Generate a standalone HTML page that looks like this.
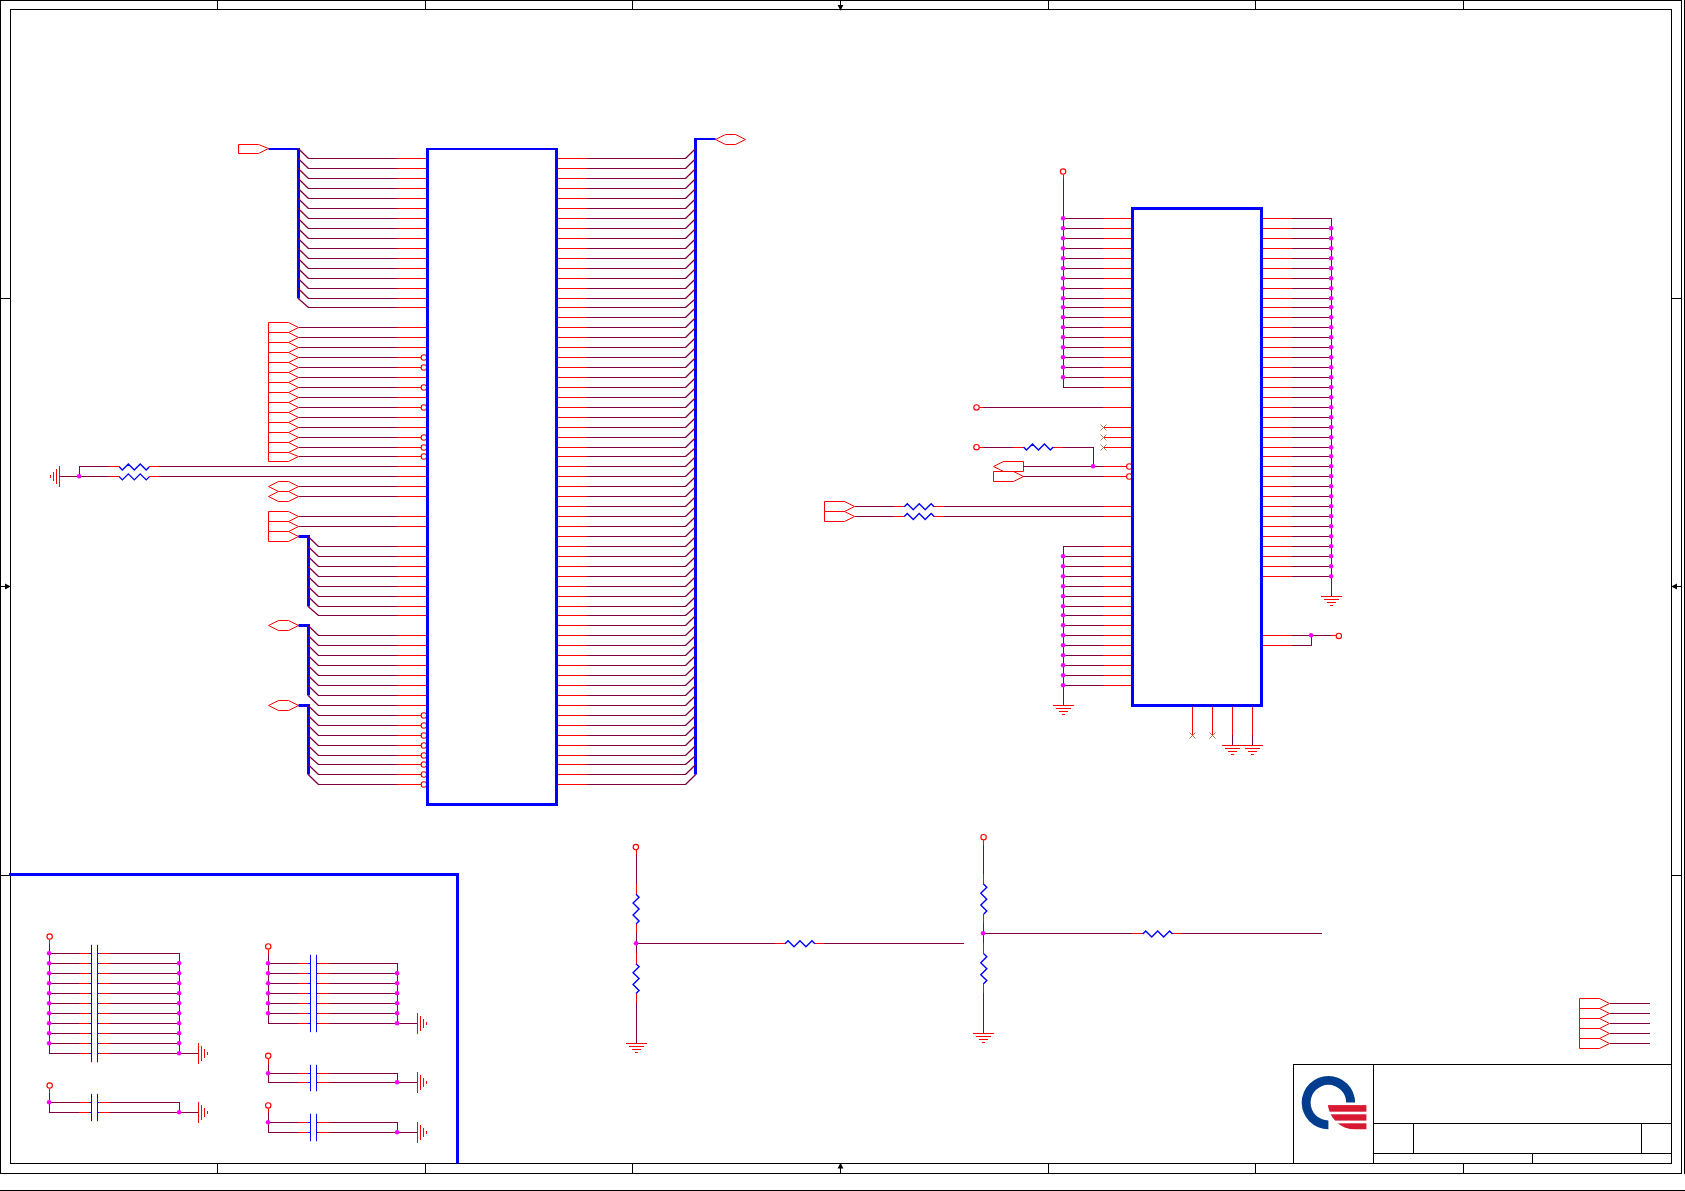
<!DOCTYPE html>
<html><head><meta charset="utf-8"><title>Schematic</title>
<style>html,body{margin:0;padding:0;background:#fff;font-family:"Liberation Sans",sans-serif}svg{display:block}</style></head>
<body>
<svg width="1685" height="1191" viewBox="0 0 1685 1191">
<rect width="1685" height="1191" fill="#fff"/>
<path d="M0 0.5L1682 0.5M0.5 0L0.5 1174M0 1173.5L1682 1173.5M1681.5 0L1681.5 1174M1684.5 0L1684.5 1174M10 9.5L1672 9.5M10.5 9L10.5 1164M10 1163.5L1672 1163.5M1671.5 9L1671.5 1164M217.5 0L217.5 10M217.5 1163L217.5 1174M425.5 0L425.5 10M425.5 1163L425.5 1174M632.5 0L632.5 10M632.5 1163L632.5 1174M1048.5 0L1048.5 10M1048.5 1163L1048.5 1174M1255.5 0L1255.5 10M1255.5 1163L1255.5 1174M1463.5 0L1463.5 10M1463.5 1163L1463.5 1174M0 298.5L11 298.5M1671 298.5L1682 298.5M0 875.5L11 875.5M1671 875.5L1682 875.5M840.5 0L840.5 10M840.5 1163L840.5 1174M0 586.5L11 586.5M1671 586.5L1682 586.5M1293 1064.5L1672 1064.5M1293.5 1064L1293.5 1164M1373.5 1064L1373.5 1164M1373 1123.5L1672 1123.5M1373 1153.5L1672 1153.5M1413.5 1123L1413.5 1154M1641.5 1123L1641.5 1154M1532.5 1153L1532.5 1164" fill="none" stroke="#000000" stroke-width="1"/>
<path d="M397 158.5L426 158.5M397 168.5L426 168.5M397 178.5L426 178.5M397 188.5L426 188.5M397 198.5L426 198.5M397 208.5L426 208.5M397 218.5L426 218.5M397 228.5L426 228.5M397 238.5L426 238.5M397 248.5L426 248.5M397 258.5L426 258.5M397 268.5L426 268.5M397 278.5L426 278.5M397 288.5L426 288.5M397 298.5L426 298.5M397 307.5L426 307.5M397 327.5L426 327.5M397 337.5L426 337.5M397 347.5L426 347.5M397 357.5L426 357.5M397 367.5L426 367.5M397 377.5L426 377.5M397 387.5L426 387.5M397 397.5L426 397.5M397 407.5L426 407.5M397 417.5L426 417.5M397 427.5L426 427.5M397 437.5L426 437.5M397 447.5L426 447.5M397 456.5L426 456.5M397 466.5L426 466.5M397 476.5L426 476.5M397 486.5L426 486.5M397 496.5L426 496.5M397 516.5L426 516.5M397 526.5L426 526.5M397 546.5L426 546.5M397 556.5L426 556.5M397 566.5L426 566.5M397 576.5L426 576.5M397 586.5L426 586.5M397 596.5L426 596.5M397 606.5L426 606.5M397 615.5L426 615.5M397 635.5L426 635.5M397 645.5L426 645.5M397 655.5L426 655.5M397 665.5L426 665.5M397 675.5L426 675.5M397 685.5L426 685.5M397 695.5L426 695.5M397 705.5L426 705.5M397 715.5L426 715.5M397 725.5L426 725.5M397 735.5L426 735.5M397 745.5L426 745.5M397 755.5L426 755.5M397 764.5L426 764.5M397 774.5L426 774.5M397 784.5L426 784.5M238.5 144.5L258.5 144.5L268.5 148.5L258.5 153.5L238.5 153.5ZM268.5 322.5L288.5 322.5L298.5 327.5L288.5 332.5L268.5 332.5ZM268.5 332.5L288.5 332.5L298.5 337.5L288.5 342.5L268.5 342.5ZM268.5 342.5L288.5 342.5L298.5 347.5L288.5 352.5L268.5 352.5ZM268.5 352.5L288.5 352.5L298.5 357.5L288.5 362.5L268.5 362.5ZM268.5 362.5L288.5 362.5L298.5 367.5L288.5 372.5L268.5 372.5ZM268.5 372.5L288.5 372.5L298.5 377.5L288.5 382.5L268.5 382.5ZM268.5 382.5L288.5 382.5L298.5 387.5L288.5 392.5L268.5 392.5ZM268.5 392.5L288.5 392.5L298.5 397.5L288.5 402.5L268.5 402.5ZM268.5 402.5L288.5 402.5L298.5 407.5L288.5 412.5L268.5 412.5ZM268.5 412.5L288.5 412.5L298.5 417.5L288.5 422.5L268.5 422.5ZM268.5 422.5L288.5 422.5L298.5 427.5L288.5 432.5L268.5 432.5ZM268.5 432.5L288.5 432.5L298.5 437.5L288.5 442.5L268.5 442.5ZM268.5 442.5L288.5 442.5L298.5 447.5L288.5 452.5L268.5 452.5ZM268.5 452.5L288.5 452.5L298.5 456.5L288.5 461.5L268.5 461.5ZM149 466.5L159 466.5M109 466.5L120 466.5M149 476.5L159 476.5M109 476.5L120 476.5M59.5 466L59.5 487M56.5 469L56.5 484M53.5 472L53.5 481M50.5 475L50.5 478M268.5 486.5L278.5 481.5L288.5 481.5L298.5 486.5L288.5 491.5L278.5 491.5ZM268.5 496.5L278.5 491.5L288.5 491.5L298.5 496.5L288.5 501.5L278.5 501.5ZM268.5 511.5L288.5 511.5L298.5 516.5L288.5 521.5L268.5 521.5ZM268.5 521.5L288.5 521.5L298.5 526.5L288.5 531.5L268.5 531.5ZM268.5 531.5L288.5 531.5L298.5 536.5L288.5 541.5L268.5 541.5ZM268.5 625.5L278.5 620.5L288.5 620.5L298.5 625.5L288.5 630.5L278.5 630.5ZM268.5 705.5L278.5 700.5L288.5 700.5L298.5 705.5L288.5 710.5L278.5 710.5ZM558 158.5L587 158.5M558 168.5L587 168.5M558 178.5L587 178.5M558 188.5L587 188.5M558 198.5L587 198.5M558 208.5L587 208.5M558 218.5L587 218.5M558 228.5L587 228.5M558 238.5L587 238.5M558 248.5L587 248.5M558 258.5L587 258.5M558 268.5L587 268.5M558 278.5L587 278.5M558 288.5L587 288.5M558 298.5L587 298.5M558 307.5L587 307.5M558 317.5L587 317.5M558 327.5L587 327.5M558 337.5L587 337.5M558 347.5L587 347.5M558 357.5L587 357.5M558 367.5L587 367.5M558 377.5L587 377.5M558 387.5L587 387.5M558 397.5L587 397.5M558 407.5L587 407.5M558 417.5L587 417.5M558 427.5L587 427.5M558 437.5L587 437.5M558 447.5L587 447.5M558 456.5L587 456.5M558 466.5L587 466.5M558 476.5L587 476.5M558 486.5L587 486.5M558 496.5L587 496.5M558 506.5L587 506.5M558 516.5L587 516.5M558 526.5L587 526.5M558 536.5L587 536.5M558 546.5L587 546.5M558 556.5L587 556.5M558 566.5L587 566.5M558 576.5L587 576.5M558 586.5L587 586.5M558 596.5L587 596.5M558 606.5L587 606.5M558 615.5L587 615.5M558 625.5L587 625.5M558 635.5L587 635.5M558 645.5L587 645.5M558 655.5L587 655.5M558 665.5L587 665.5M558 675.5L587 675.5M558 685.5L587 685.5M558 695.5L587 695.5M558 705.5L587 705.5M558 715.5L587 715.5M558 725.5L587 725.5M558 735.5L587 735.5M558 745.5L587 745.5M558 755.5L587 755.5M558 764.5L587 764.5M558 774.5L587 774.5M558 784.5L587 784.5M715.5 139.5L725.5 134.5L735.5 134.5L745.5 139.5L735.5 144.5L725.5 144.5ZM1103 218.5L1131 218.5M1103 228.5L1131 228.5M1103 238.5L1131 238.5M1103 248.5L1131 248.5M1103 258.5L1131 258.5M1103 268.5L1131 268.5M1103 278.5L1131 278.5M1103 288.5L1131 288.5M1103 298.5L1131 298.5M1103 307.5L1131 307.5M1103 317.5L1131 317.5M1103 327.5L1131 327.5M1103 337.5L1131 337.5M1103 347.5L1131 347.5M1103 357.5L1131 357.5M1103 367.5L1131 367.5M1103 377.5L1131 377.5M1103 387.5L1131 387.5M1063.5 174.5L1063.5 179M1103 407.5L1131 407.5M979.49 407.5L984 407.5M1103 427.5L1131 427.5M1103 437.5L1131 437.5M1103 447.5L1131 447.5M979.49 447.5L984 447.5M1013 447.5L1024 447.5M1053 447.5L1063 447.5M1103 466.5L1131 466.5M1023.5 461.5L1003.5 461.5L993.5 466.5L1003.5 471.5L1023.5 471.5ZM1103 476.5L1131 476.5M993.5 471.5L1013.5 471.5L1023.5 476.5L1013.5 481.5L993.5 481.5ZM1103 506.5L1131 506.5M934 506.5L944 506.5M894 506.5L905 506.5M824.5 501.5L844.5 501.5L854.5 506.5L844.5 511.5L824.5 511.5ZM1103 516.5L1131 516.5M934 516.5L944 516.5M894 516.5L905 516.5M824.5 511.5L844.5 511.5L854.5 516.5L844.5 521.5L824.5 521.5ZM1103 546.5L1131 546.5M1103 556.5L1131 556.5M1103 566.5L1131 566.5M1103 576.5L1131 576.5M1103 586.5L1131 586.5M1103 596.5L1131 596.5M1103 606.5L1131 606.5M1103 615.5L1131 615.5M1103 625.5L1131 625.5M1103 635.5L1131 635.5M1103 645.5L1131 645.5M1103 655.5L1131 655.5M1103 665.5L1131 665.5M1103 675.5L1131 675.5M1103 685.5L1131 685.5M1053 705.5L1074 705.5M1056 708.5L1071 708.5M1059 711.5L1068 711.5M1062 714.5L1065 714.5M1263 218.5L1292 218.5M1263 228.5L1292 228.5M1263 238.5L1292 238.5M1263 248.5L1292 248.5M1263 258.5L1292 258.5M1263 268.5L1292 268.5M1263 278.5L1292 278.5M1263 288.5L1292 288.5M1263 298.5L1292 298.5M1263 307.5L1292 307.5M1263 317.5L1292 317.5M1263 327.5L1292 327.5M1263 337.5L1292 337.5M1263 347.5L1292 347.5M1263 357.5L1292 357.5M1263 367.5L1292 367.5M1263 377.5L1292 377.5M1263 387.5L1292 387.5M1263 397.5L1292 397.5M1263 407.5L1292 407.5M1263 417.5L1292 417.5M1263 427.5L1292 427.5M1263 437.5L1292 437.5M1263 447.5L1292 447.5M1263 456.5L1292 456.5M1263 466.5L1292 466.5M1263 476.5L1292 476.5M1263 486.5L1292 486.5M1263 496.5L1292 496.5M1263 506.5L1292 506.5M1263 516.5L1292 516.5M1263 526.5L1292 526.5M1263 536.5L1292 536.5M1263 546.5L1292 546.5M1263 556.5L1292 556.5M1263 566.5L1292 566.5M1263 576.5L1292 576.5M1321 596.5L1342 596.5M1324 599.5L1339 599.5M1327 602.5L1336 602.5M1330 605.5L1333 605.5M1263 635.5L1292 635.5M1263 645.5L1292 645.5M1331 635.5L1335.84 635.5M1192.5 707L1192.5 735M1212.5 707L1212.5 735M1232.5 707L1232.5 735M1222 745.5L1243 745.5M1225 748.5L1240 748.5M1228 751.5L1237 751.5M1231 754.5L1234 754.5M1252.5 707L1252.5 735M1242 745.5L1263 745.5M1245 748.5L1260 748.5M1248 751.5L1257 751.5M1251 754.5L1254 754.5M636.5 850.12L636.5 855M636.5 884L636.5 895M636.5 923L636.5 933M636.5 953L636.5 964M636.5 993L636.5 1003M626 1043.5L647 1043.5M629 1046.5L644 1046.5M632 1049.5L641 1049.5M635 1052.5L638 1052.5M775 943.5L786 943.5M814 943.5L824 943.5M983.5 840.18L983.5 845M983.5 874L983.5 885M983.5 914L983.5 923M983.5 943L983.5 954M983.5 983L983.5 993M973 1033.5L994 1033.5M976 1036.5L991 1036.5M979 1039.5L988 1039.5M982 1042.5L985 1042.5M1132 933.5L1143 933.5M1172 933.5L1182 933.5M1579.5 998.5L1599.5 998.5L1609.5 1003.5L1599.5 1008.5L1579.5 1008.5ZM1579.5 1008.5L1599.5 1008.5L1609.5 1013.5L1599.5 1018.5L1579.5 1018.5ZM1579.5 1018.5L1599.5 1018.5L1609.5 1023.5L1599.5 1028.5L1579.5 1028.5ZM1579.5 1028.5L1599.5 1028.5L1609.5 1033.5L1599.5 1038.5L1579.5 1038.5ZM1579.5 1038.5L1599.5 1038.5L1609.5 1043.5L1599.5 1048.5L1579.5 1048.5ZM49.5 939.54L49.5 944M79 953.5L89 953.5M99 953.5L110 953.5M79 963.5L89 963.5M99 963.5L110 963.5M79 973.5L89 973.5M99 973.5L110 973.5M79 983.5L89 983.5M99 983.5L110 983.5M79 993.5L89 993.5M99 993.5L110 993.5M79 1003.5L89 1003.5M99 1003.5L110 1003.5M79 1013.5L89 1013.5M99 1013.5L110 1013.5M79 1023.5L89 1023.5M99 1023.5L110 1023.5M79 1033.5L89 1033.5M99 1033.5L110 1033.5M79 1043.5L89 1043.5M99 1043.5L110 1043.5M79 1053.5L89 1053.5M99 1053.5L110 1053.5M198.5 1043L198.5 1064M201.5 1046L201.5 1061M204.5 1049L204.5 1058M207.5 1052L207.5 1055M49.5 1088.57L49.5 1093M79 1102.5L89 1102.5M99 1102.5L110 1102.5M79 1112.5L89 1112.5M99 1112.5L110 1112.5M198.5 1102L198.5 1123M201.5 1105L201.5 1120M204.5 1108L204.5 1117M207.5 1111L207.5 1114M268.5 949.47L268.5 954M298 963.5L308 963.5M318 963.5L329 963.5M298 973.5L308 973.5M318 973.5L329 973.5M298 983.5L308 983.5M318 983.5L329 983.5M298 993.5L308 993.5M318 993.5L329 993.5M298 1003.5L308 1003.5M318 1003.5L329 1003.5M298 1013.5L308 1013.5M318 1013.5L329 1013.5M298 1023.5L308 1023.5M318 1023.5L329 1023.5M417.5 1013L417.5 1034M420.5 1016L420.5 1031M423.5 1019L423.5 1028M426.5 1022L426.5 1025M268.5 1058.77L268.5 1064M298 1073.5L308 1073.5M318 1073.5L329 1073.5M298 1082.5L308 1082.5M318 1082.5L329 1082.5M417.5 1072L417.5 1093M420.5 1075L420.5 1090M423.5 1078L423.5 1087M426.5 1081L426.5 1084M268.5 1108.44L268.5 1113M298 1122.5L308 1122.5M318 1122.5L329 1122.5M298 1132.5L308 1132.5M318 1132.5L329 1132.5M417.5 1122L417.5 1143M420.5 1125L420.5 1140M423.5 1128L423.5 1137M426.5 1131L426.5 1134" fill="none" stroke="#ff0000" stroke-width="1" stroke-linejoin="miter"/>
<g fill="#0000ff"><rect x="268.5" y="148" width="31.5" height="2"/><rect x="297" y="148" width="3" height="150.5"/><rect x="298.5" y="535" width="11.5" height="3"/><rect x="307" y="535" width="3" height="71.5"/><rect x="298.5" y="624" width="11.5" height="3"/><rect x="307" y="624" width="3" height="71.5"/><rect x="298.5" y="704" width="11.5" height="3"/><rect x="307" y="704" width="3" height="70.5"/><rect x="694" y="138" width="3" height="636.5"/><rect x="694" y="138" width="21.5" height="2"/></g>
<path d="M298.24 148.5L308.5 158.5M298.24 158.5L308.5 168.5M298.24 168.5L308.5 178.5M298.24 178.5L308.5 188.5M298.24 188.5L308.5 198.5M298.24 198.5L308.5 208.5M298.24 208.5L308.5 218.5M298.24 218.5L308.5 228.5M298.24 228.5L308.5 238.5M298.24 238.5L308.5 248.5M298.24 248.5L308.5 258.5M298.24 258.5L308.5 268.5M298.24 268.5L308.5 278.5M298.24 278.5L308.5 288.5M298.24 288.5L308.5 298.5M298.24 298.5L308.5 307.5M308.17 536.5L318.5 546.5M308.17 546.5L318.5 556.5M308.17 556.5L318.5 566.5M308.17 566.5L318.5 576.5M308.17 576.5L318.5 586.5M308.17 586.5L318.5 596.5M308.17 596.5L318.5 606.5M308.17 606.5L318.5 615.5M308.17 625.5L318.5 635.5M308.17 635.5L318.5 645.5M308.17 645.5L318.5 655.5M308.17 655.5L318.5 665.5M308.17 665.5L318.5 675.5M308.17 675.5L318.5 685.5M308.17 685.5L318.5 695.5M308.17 695.5L318.5 705.5M308.17 705.5L318.5 715.5M308.17 715.5L318.5 725.5M308.17 725.5L318.5 735.5M308.17 735.5L318.5 745.5M308.17 745.5L318.5 755.5M308.17 755.5L318.5 764.5M308.17 764.5L318.5 774.5M308.17 774.5L318.5 784.5M685.5 158.5L695.66 148.5M685.5 168.5L695.66 158.5M685.5 178.5L695.66 168.5M685.5 188.5L695.66 178.5M685.5 198.5L695.66 188.5M685.5 208.5L695.66 198.5M685.5 218.5L695.66 208.5M685.5 228.5L695.66 218.5M685.5 238.5L695.66 228.5M685.5 248.5L695.66 238.5M685.5 258.5L695.66 248.5M685.5 268.5L695.66 258.5M685.5 278.5L695.66 268.5M685.5 288.5L695.66 278.5M685.5 298.5L695.66 288.5M685.5 307.5L695.66 298.5M685.5 317.5L695.66 307.5M685.5 327.5L695.66 317.5M685.5 337.5L695.66 327.5M685.5 347.5L695.66 337.5M685.5 357.5L695.66 347.5M685.5 367.5L695.66 357.5M685.5 377.5L695.66 367.5M685.5 387.5L695.66 377.5M685.5 397.5L695.66 387.5M685.5 407.5L695.66 397.5M685.5 417.5L695.66 407.5M685.5 427.5L695.66 417.5M685.5 437.5L695.66 427.5M685.5 447.5L695.66 437.5M685.5 456.5L695.66 447.5M685.5 466.5L695.66 456.5M685.5 476.5L695.66 466.5M685.5 486.5L695.66 476.5M685.5 496.5L695.66 486.5M685.5 506.5L695.66 496.5M685.5 516.5L695.66 506.5M685.5 526.5L695.66 516.5M685.5 536.5L695.66 526.5M685.5 546.5L695.66 536.5M685.5 556.5L695.66 546.5M685.5 566.5L695.66 556.5M685.5 576.5L695.66 566.5M685.5 586.5L695.66 576.5M685.5 596.5L695.66 586.5M685.5 606.5L695.66 596.5M685.5 615.5L695.66 606.5M685.5 625.5L695.66 615.5M685.5 635.5L695.66 625.5M685.5 645.5L695.66 635.5M685.5 655.5L695.66 645.5M685.5 665.5L695.66 655.5M685.5 675.5L695.66 665.5M685.5 685.5L695.66 675.5M685.5 695.5L695.66 685.5M685.5 705.5L695.66 695.5M685.5 715.5L695.66 705.5M685.5 725.5L695.66 715.5M685.5 735.5L695.66 725.5M685.5 745.5L695.66 735.5M685.5 755.5L695.66 745.5M685.5 764.5L695.66 755.5M685.5 774.5L695.66 764.5M685.5 784.5L695.66 774.5" fill="none" stroke="#800040" stroke-width="1.3"/>
<path d="M308 158.5L397 158.5M308 168.5L397 168.5M308 178.5L397 178.5M308 188.5L397 188.5M308 198.5L397 198.5M308 208.5L397 208.5M308 218.5L397 218.5M308 228.5L397 228.5M308 238.5L397 238.5M308 248.5L397 248.5M308 258.5L397 258.5M308 268.5L397 268.5M308 278.5L397 278.5M308 288.5L397 288.5M308 298.5L397 298.5M308 307.5L397 307.5M299 327.5L397 327.5M299 337.5L397 337.5M299 347.5L397 347.5M299 357.5L397 357.5M299 367.5L397 367.5M299 377.5L397 377.5M299 387.5L397 387.5M299 397.5L397 397.5M299 407.5L397 407.5M299 417.5L397 417.5M299 427.5L397 427.5M299 437.5L397 437.5M299 447.5L397 447.5M299 456.5L397 456.5M159 466.5L397 466.5M79 466.5L109 466.5M159 476.5L397 476.5M79 476.5L109 476.5M79.5 466L79.5 477M59 476.5L80 476.5M299 486.5L397 486.5M299 496.5L397 496.5M299 516.5L397 516.5M299 526.5L397 526.5M318 546.5L397 546.5M318 556.5L397 556.5M318 566.5L397 566.5M318 576.5L397 576.5M318 586.5L397 586.5M318 596.5L397 596.5M318 606.5L397 606.5M318 615.5L397 615.5M318 635.5L397 635.5M318 645.5L397 645.5M318 655.5L397 655.5M318 665.5L397 665.5M318 675.5L397 675.5M318 685.5L397 685.5M318 695.5L397 695.5M318 705.5L397 705.5M318 715.5L397 715.5M318 725.5L397 725.5M318 735.5L397 735.5M318 745.5L397 745.5M318 755.5L397 755.5M318 764.5L397 764.5M318 774.5L397 774.5M318 784.5L397 784.5M587 158.5L686 158.5M587 168.5L686 168.5M587 178.5L686 178.5M587 188.5L686 188.5M587 198.5L686 198.5M587 208.5L686 208.5M587 218.5L686 218.5M587 228.5L686 228.5M587 238.5L686 238.5M587 248.5L686 248.5M587 258.5L686 258.5M587 268.5L686 268.5M587 278.5L686 278.5M587 288.5L686 288.5M587 298.5L686 298.5M587 307.5L686 307.5M587 317.5L686 317.5M587 327.5L686 327.5M587 337.5L686 337.5M587 347.5L686 347.5M587 357.5L686 357.5M587 367.5L686 367.5M587 377.5L686 377.5M587 387.5L686 387.5M587 397.5L686 397.5M587 407.5L686 407.5M587 417.5L686 417.5M587 427.5L686 427.5M587 437.5L686 437.5M587 447.5L686 447.5M587 456.5L686 456.5M587 466.5L686 466.5M587 476.5L686 476.5M587 486.5L686 486.5M587 496.5L686 496.5M587 506.5L686 506.5M587 516.5L686 516.5M587 526.5L686 526.5M587 536.5L686 536.5M587 546.5L686 546.5M587 556.5L686 556.5M587 566.5L686 566.5M587 576.5L686 576.5M587 586.5L686 586.5M587 596.5L686 596.5M587 606.5L686 606.5M587 615.5L686 615.5M587 625.5L686 625.5M587 635.5L686 635.5M587 645.5L686 645.5M587 655.5L686 655.5M587 665.5L686 665.5M587 675.5L686 675.5M587 685.5L686 685.5M587 695.5L686 695.5M587 705.5L686 705.5M587 715.5L686 715.5M587 725.5L686 725.5M587 735.5L686 735.5M587 745.5L686 745.5M587 755.5L686 755.5M587 764.5L686 764.5M587 774.5L686 774.5M587 784.5L686 784.5M1063 218.5L1103 218.5M1063 228.5L1103 228.5M1063 238.5L1103 238.5M1063 248.5L1103 248.5M1063 258.5L1103 258.5M1063 268.5L1103 268.5M1063 278.5L1103 278.5M1063 288.5L1103 288.5M1063 298.5L1103 298.5M1063 307.5L1103 307.5M1063 317.5L1103 317.5M1063 327.5L1103 327.5M1063 337.5L1103 337.5M1063 347.5L1103 347.5M1063 357.5L1103 357.5M1063 367.5L1103 367.5M1063 377.5L1103 377.5M1063 387.5L1103 387.5M1063.5 179L1063.5 388M983 407.5L1103 407.5M984 447.5L1013 447.5M1063 447.5L1094 447.5M1093.5 447L1093.5 467M1023 466.5L1103 466.5M1023 476.5L1103 476.5M944 506.5L1103 506.5M855 506.5L894 506.5M944 516.5L1103 516.5M855 516.5L894 516.5M1063 546.5L1103 546.5M1063 556.5L1103 556.5M1063 566.5L1103 566.5M1063 576.5L1103 576.5M1063 586.5L1103 586.5M1063 596.5L1103 596.5M1063 606.5L1103 606.5M1063 615.5L1103 615.5M1063 625.5L1103 625.5M1063 635.5L1103 635.5M1063 645.5L1103 645.5M1063 655.5L1103 655.5M1063 665.5L1103 665.5M1063 675.5L1103 675.5M1063 685.5L1103 685.5M1063.5 546L1063.5 705M1292 218.5L1332 218.5M1292 228.5L1332 228.5M1292 238.5L1332 238.5M1292 248.5L1332 248.5M1292 258.5L1332 258.5M1292 268.5L1332 268.5M1292 278.5L1332 278.5M1292 288.5L1332 288.5M1292 298.5L1332 298.5M1292 307.5L1332 307.5M1292 317.5L1332 317.5M1292 327.5L1332 327.5M1292 337.5L1332 337.5M1292 347.5L1332 347.5M1292 357.5L1332 357.5M1292 367.5L1332 367.5M1292 377.5L1332 377.5M1292 387.5L1332 387.5M1292 397.5L1332 397.5M1292 407.5L1332 407.5M1292 417.5L1332 417.5M1292 427.5L1332 427.5M1292 437.5L1332 437.5M1292 447.5L1332 447.5M1292 456.5L1332 456.5M1292 466.5L1332 466.5M1292 476.5L1332 476.5M1292 486.5L1332 486.5M1292 496.5L1332 496.5M1292 506.5L1332 506.5M1292 516.5L1332 516.5M1292 526.5L1332 526.5M1292 536.5L1332 536.5M1292 546.5L1332 546.5M1292 556.5L1332 556.5M1292 566.5L1332 566.5M1292 576.5L1332 576.5M1331.5 218L1331.5 596M1292 635.5L1312 635.5M1292 645.5L1312 645.5M1311 635.5L1331 635.5M1311.5 635L1311.5 646M1232.5 735L1232.5 745M1252.5 735L1252.5 745M636.5 855L636.5 884M636.5 933L636.5 953M636.5 1003L636.5 1043M636 943.5L775 943.5M824 943.5L964 943.5M983.5 845L983.5 874M983.5 923L983.5 943M983.5 993L983.5 1033M983 933.5L1132 933.5M1182 933.5L1322 933.5M1610 1003.5L1650 1003.5M1610 1013.5L1650 1013.5M1610 1023.5L1650 1023.5M1610 1033.5L1650 1033.5M1610 1043.5L1650 1043.5M49.5 944L49.5 1054M179.5 953L179.5 1054M49 953.5L79 953.5M110 953.5L180 953.5M49 963.5L79 963.5M110 963.5L180 963.5M49 973.5L79 973.5M110 973.5L180 973.5M49 983.5L79 983.5M110 983.5L180 983.5M49 993.5L79 993.5M110 993.5L180 993.5M49 1003.5L79 1003.5M110 1003.5L180 1003.5M49 1013.5L79 1013.5M110 1013.5L180 1013.5M49 1023.5L79 1023.5M110 1023.5L180 1023.5M49 1033.5L79 1033.5M110 1033.5L180 1033.5M49 1043.5L79 1043.5M110 1043.5L180 1043.5M49 1053.5L79 1053.5M110 1053.5L180 1053.5M179 1053.5L198 1053.5M49.5 1093L49.5 1113M179.5 1102L179.5 1113M49 1102.5L79 1102.5M110 1102.5L180 1102.5M49 1112.5L79 1112.5M110 1112.5L180 1112.5M179 1112.5L198 1112.5M268.5 954L268.5 1024M397.5 963L397.5 1024M268 963.5L298 963.5M329 963.5L398 963.5M268 973.5L298 973.5M329 973.5L398 973.5M268 983.5L298 983.5M329 983.5L398 983.5M268 993.5L298 993.5M329 993.5L398 993.5M268 1003.5L298 1003.5M329 1003.5L398 1003.5M268 1013.5L298 1013.5M329 1013.5L398 1013.5M268 1023.5L298 1023.5M329 1023.5L398 1023.5M397 1023.5L417 1023.5M268.5 1064L268.5 1083M397.5 1073L397.5 1083M268 1073.5L298 1073.5M329 1073.5L398 1073.5M268 1082.5L298 1082.5M329 1082.5L398 1082.5M397 1082.5L417 1082.5M268.5 1113L268.5 1133M397.5 1122L397.5 1133M268 1122.5L298 1122.5M329 1122.5L398 1122.5M268 1132.5L298 1132.5M329 1132.5L398 1132.5M397 1132.5L417 1132.5" fill="none" stroke="#800040" stroke-width="1"/>
<path d="M89 953.5L92 953.5M97 953.5L99 953.5M89 963.5L92 963.5M97 963.5L99 963.5M89 973.5L92 973.5M97 973.5L99 973.5M89 983.5L92 983.5M97 983.5L99 983.5M89 993.5L92 993.5M97 993.5L99 993.5M89 1003.5L92 1003.5M97 1003.5L99 1003.5M89 1013.5L92 1013.5M97 1013.5L99 1013.5M89 1023.5L92 1023.5M97 1023.5L99 1023.5M89 1033.5L92 1033.5M97 1033.5L99 1033.5M89 1043.5L92 1043.5M97 1043.5L99 1043.5M89 1053.5L92 1053.5M97 1053.5L99 1053.5M91.5 944.8L91.5 1062.2M97.5 944.8L97.5 1062.2M89 1102.5L92 1102.5M97 1102.5L99 1102.5M89 1112.5L92 1112.5M97 1112.5L99 1112.5M91.5 1093.8L91.5 1121.2M97.5 1093.8L97.5 1121.2M308 963.5L311 963.5M316 963.5L318 963.5M308 973.5L311 973.5M316 973.5L318 973.5M308 983.5L311 983.5M316 983.5L318 983.5M308 993.5L311 993.5M316 993.5L318 993.5M308 1003.5L311 1003.5M316 1003.5L318 1003.5M308 1013.5L311 1013.5M316 1013.5L318 1013.5M308 1023.5L311 1023.5M316 1023.5L318 1023.5M310.5 954.8L310.5 1032.2M316.5 954.8L316.5 1032.2M308 1073.5L311 1073.5M316 1073.5L318 1073.5M308 1082.5L311 1082.5M316 1082.5L318 1082.5M310.5 1064.8L310.5 1091.2M316.5 1064.8L316.5 1091.2M308 1122.5L311 1122.5M316 1122.5L318 1122.5M308 1132.5L311 1132.5M316 1132.5L318 1132.5M310.5 1113.8L310.5 1141.2M316.5 1113.8L316.5 1141.2" fill="none" stroke="#0000ff" stroke-width="1"/>
<path d="M119.4 466.93L122.38 469.93L128.34 463.93L134.3 469.93L140.26 463.93L146.22 469.93L149.2 466.93M119.4 476.87L122.38 479.87L128.34 473.87L134.3 479.87L140.26 473.87L146.22 479.87L149.2 476.87M1023.54 447.06L1026.52 450.06L1032.48 444.06L1038.44 450.06L1044.4 444.06L1050.36 450.06L1053.34 447.06M904.31 506.67L907.29 503.67L913.25 509.67L919.21 503.67L925.17 509.67L931.13 503.67L934.12 506.67M904.31 516.61L907.29 513.61L913.25 519.61L919.21 513.61L925.17 519.61L931.13 513.61L934.12 516.61M636.05 894.16L639.05 897.14L633.05 903.1L639.05 909.06L633.05 915.03L639.05 920.99L636.05 923.97M636.05 963.71L639.05 966.69L633.05 972.65L639.05 978.61L633.05 984.57L639.05 990.54L636.05 993.52M785.08 943.84L788.06 940.84L794.02 946.84L799.98 940.84L805.95 946.84L811.91 940.84L814.89 943.84M983.79 884.23L986.79 887.21L980.79 893.17L986.79 899.13L980.79 905.09L986.79 911.05L983.79 914.03M983.79 953.77L986.79 956.76L980.79 962.72L986.79 968.68L980.79 974.64L986.79 980.6L983.79 983.58M1142.76 933.9L1145.74 930.9L1151.71 936.9L1157.67 930.9L1163.63 936.9L1169.59 930.9L1172.57 933.9" fill="none" stroke="#0000ff" stroke-width="1.4" stroke-linejoin="miter"/>
<path d="M1100.5 424.5L1106.5 430.5M1100.5 430.5L1106.5 424.5M1100.5 434.5L1106.5 440.5M1100.5 440.5L1106.5 434.5M1100.5 444.5L1106.5 450.5M1100.5 450.5L1106.5 444.5M1189.5 732.5L1195.5 738.5M1189.5 738.5L1195.5 732.5M1209.5 732.5L1215.5 738.5M1209.5 738.5L1215.5 732.5" fill="none" stroke="#a07040" stroke-width="0.9"/>
<g fill="#fff" stroke="#ff0000" stroke-width="1.15"><circle cx="423.9" cy="357.5" r="2.75"/><circle cx="423.9" cy="367.5" r="2.75"/><circle cx="423.9" cy="387.5" r="2.75"/><circle cx="423.9" cy="407.5" r="2.75"/><circle cx="423.9" cy="437.5" r="2.75"/><circle cx="423.9" cy="447.5" r="2.75"/><circle cx="423.9" cy="456.5" r="2.75"/><circle cx="423.9" cy="715.5" r="2.75"/><circle cx="423.9" cy="725.5" r="2.75"/><circle cx="423.9" cy="735.5" r="2.75"/><circle cx="423.9" cy="745.5" r="2.75"/><circle cx="423.9" cy="755.5" r="2.75"/><circle cx="423.9" cy="764.5" r="2.75"/><circle cx="423.9" cy="774.5" r="2.75"/><circle cx="423.9" cy="784.5" r="2.75"/><circle cx="1063.08" cy="171.5" r="2.7"/><circle cx="976.49" cy="407.42" r="2.7"/><circle cx="976.49" cy="447.16" r="2.7"/><circle cx="1129.33" cy="466.5" r="2.75"/><circle cx="1129.33" cy="476.5" r="2.75"/><circle cx="1338.84" cy="635.94" r="2.7"/><circle cx="635.85" cy="847.12" r="2.7"/><circle cx="983.59" cy="837.18" r="2.7"/><circle cx="49.65" cy="936.54" r="2.7"/><circle cx="49.65" cy="1085.57" r="2.7"/><circle cx="268.23" cy="946.47" r="2.7"/><circle cx="268.23" cy="1055.77" r="2.7"/><circle cx="268.23" cy="1105.44" r="2.7"/></g>
<g fill="#0000ff"><rect x="426" y="148" width="3" height="658"/><rect x="555" y="148" width="3" height="658"/><rect x="426" y="148" width="132" height="2"/><rect x="426" y="803" width="132" height="3"/><rect x="1131" y="207" width="3" height="500"/><rect x="1260" y="207" width="3" height="500"/><rect x="1131" y="207" width="132" height="3"/><rect x="1131" y="704" width="132" height="3"/><rect x="9" y="873" width="450" height="3"/><rect x="456" y="873" width="3" height="290.5"/></g>
<path d="M837.6 5H843.4L840.5 10.8ZM837.6 1168.5H843.4L840.5 1162.7ZM5 583.6V589.4L10.8 586.5ZM1677 583.6V589.4L1671.2 586.5Z" fill="#000"/>
<rect x="0" y="1190" width="1685" height="1" fill="#000"/>
<path d="M1355.1 1102.6A26.7 26.7 0 1 0 1328.4 1129.3L1328.4 1120.4A17.8 17.8 0 1 1 1346.2 1102.6Z" fill="#003d8f"/>
<clipPath id="lc"><circle cx="1355.2" cy="1102" r="27.5"/><rect x="1355.2" y="1100" width="12" height="29.5"/></clipPath>
<g clip-path="url(#lc)" fill="#d71a32"><rect x="1320" y="1105.1" width="46.4" height="6.6"/><rect x="1320" y="1114.3" width="46.4" height="6.3"/><rect x="1320" y="1123.3" width="46.4" height="6.2"/></g>
<g fill="#ff00ff"><circle cx="79.1" cy="476.3" r="2.3"/><circle cx="1063.1" cy="218.3" r="2.3"/><circle cx="1063.1" cy="228.3" r="2.3"/><circle cx="1063.1" cy="238.3" r="2.3"/><circle cx="1063.1" cy="248.3" r="2.3"/><circle cx="1063.1" cy="258.3" r="2.3"/><circle cx="1063.1" cy="268.3" r="2.3"/><circle cx="1063.1" cy="278.3" r="2.3"/><circle cx="1063.1" cy="288.3" r="2.3"/><circle cx="1063.1" cy="298.3" r="2.3"/><circle cx="1063.1" cy="307.3" r="2.3"/><circle cx="1063.1" cy="317.3" r="2.3"/><circle cx="1063.1" cy="327.3" r="2.3"/><circle cx="1063.1" cy="337.3" r="2.3"/><circle cx="1063.1" cy="347.3" r="2.3"/><circle cx="1063.1" cy="357.3" r="2.3"/><circle cx="1063.1" cy="367.3" r="2.3"/><circle cx="1063.1" cy="377.3" r="2.3"/><circle cx="1093.1" cy="466.3" r="2.3"/><circle cx="1063.1" cy="556.3" r="2.3"/><circle cx="1063.1" cy="566.3" r="2.3"/><circle cx="1063.1" cy="576.3" r="2.3"/><circle cx="1063.1" cy="586.3" r="2.3"/><circle cx="1063.1" cy="596.3" r="2.3"/><circle cx="1063.1" cy="606.3" r="2.3"/><circle cx="1063.1" cy="615.3" r="2.3"/><circle cx="1063.1" cy="625.3" r="2.3"/><circle cx="1063.1" cy="635.3" r="2.3"/><circle cx="1063.1" cy="645.3" r="2.3"/><circle cx="1063.1" cy="655.3" r="2.3"/><circle cx="1063.1" cy="665.3" r="2.3"/><circle cx="1063.1" cy="675.3" r="2.3"/><circle cx="1063.1" cy="685.3" r="2.3"/><circle cx="1331.1" cy="228.3" r="2.3"/><circle cx="1331.1" cy="238.3" r="2.3"/><circle cx="1331.1" cy="248.3" r="2.3"/><circle cx="1331.1" cy="258.3" r="2.3"/><circle cx="1331.1" cy="268.3" r="2.3"/><circle cx="1331.1" cy="278.3" r="2.3"/><circle cx="1331.1" cy="288.3" r="2.3"/><circle cx="1331.1" cy="298.3" r="2.3"/><circle cx="1331.1" cy="307.3" r="2.3"/><circle cx="1331.1" cy="317.3" r="2.3"/><circle cx="1331.1" cy="327.3" r="2.3"/><circle cx="1331.1" cy="337.3" r="2.3"/><circle cx="1331.1" cy="347.3" r="2.3"/><circle cx="1331.1" cy="357.3" r="2.3"/><circle cx="1331.1" cy="367.3" r="2.3"/><circle cx="1331.1" cy="377.3" r="2.3"/><circle cx="1331.1" cy="387.3" r="2.3"/><circle cx="1331.1" cy="397.3" r="2.3"/><circle cx="1331.1" cy="407.3" r="2.3"/><circle cx="1331.1" cy="417.3" r="2.3"/><circle cx="1331.1" cy="427.3" r="2.3"/><circle cx="1331.1" cy="437.3" r="2.3"/><circle cx="1331.1" cy="447.3" r="2.3"/><circle cx="1331.1" cy="456.3" r="2.3"/><circle cx="1331.1" cy="466.3" r="2.3"/><circle cx="1331.1" cy="476.3" r="2.3"/><circle cx="1331.1" cy="486.3" r="2.3"/><circle cx="1331.1" cy="496.3" r="2.3"/><circle cx="1331.1" cy="506.3" r="2.3"/><circle cx="1331.1" cy="516.3" r="2.3"/><circle cx="1331.1" cy="526.3" r="2.3"/><circle cx="1331.1" cy="536.3" r="2.3"/><circle cx="1331.1" cy="546.3" r="2.3"/><circle cx="1331.1" cy="556.3" r="2.3"/><circle cx="1331.1" cy="566.3" r="2.3"/><circle cx="1331.1" cy="576.3" r="2.3"/><circle cx="1311.1" cy="635.3" r="2.3"/><circle cx="636.1" cy="943.3" r="2.3"/><circle cx="983.1" cy="933.3" r="2.3"/><circle cx="49.1" cy="953.3" r="2.3"/><circle cx="49.1" cy="963.3" r="2.3"/><circle cx="179.1" cy="963.3" r="2.3"/><circle cx="49.1" cy="973.3" r="2.3"/><circle cx="179.1" cy="973.3" r="2.3"/><circle cx="49.1" cy="983.3" r="2.3"/><circle cx="179.1" cy="983.3" r="2.3"/><circle cx="49.1" cy="993.3" r="2.3"/><circle cx="179.1" cy="993.3" r="2.3"/><circle cx="49.1" cy="1003.3" r="2.3"/><circle cx="179.1" cy="1003.3" r="2.3"/><circle cx="49.1" cy="1013.3" r="2.3"/><circle cx="179.1" cy="1013.3" r="2.3"/><circle cx="49.1" cy="1023.3" r="2.3"/><circle cx="179.1" cy="1023.3" r="2.3"/><circle cx="49.1" cy="1033.3" r="2.3"/><circle cx="179.1" cy="1033.3" r="2.3"/><circle cx="49.1" cy="1043.3" r="2.3"/><circle cx="179.1" cy="1043.3" r="2.3"/><circle cx="179.1" cy="1053.3" r="2.3"/><circle cx="49.1" cy="1102.3" r="2.3"/><circle cx="179.1" cy="1112.3" r="2.3"/><circle cx="268.1" cy="963.3" r="2.3"/><circle cx="268.1" cy="973.3" r="2.3"/><circle cx="397.1" cy="973.3" r="2.3"/><circle cx="268.1" cy="983.3" r="2.3"/><circle cx="397.1" cy="983.3" r="2.3"/><circle cx="268.1" cy="993.3" r="2.3"/><circle cx="397.1" cy="993.3" r="2.3"/><circle cx="268.1" cy="1003.3" r="2.3"/><circle cx="397.1" cy="1003.3" r="2.3"/><circle cx="268.1" cy="1013.3" r="2.3"/><circle cx="397.1" cy="1013.3" r="2.3"/><circle cx="397.1" cy="1023.3" r="2.3"/><circle cx="268.1" cy="1073.3" r="2.3"/><circle cx="397.1" cy="1082.3" r="2.3"/><circle cx="268.1" cy="1122.3" r="2.3"/><circle cx="397.1" cy="1132.3" r="2.3"/></g>
</svg>
</body></html>
